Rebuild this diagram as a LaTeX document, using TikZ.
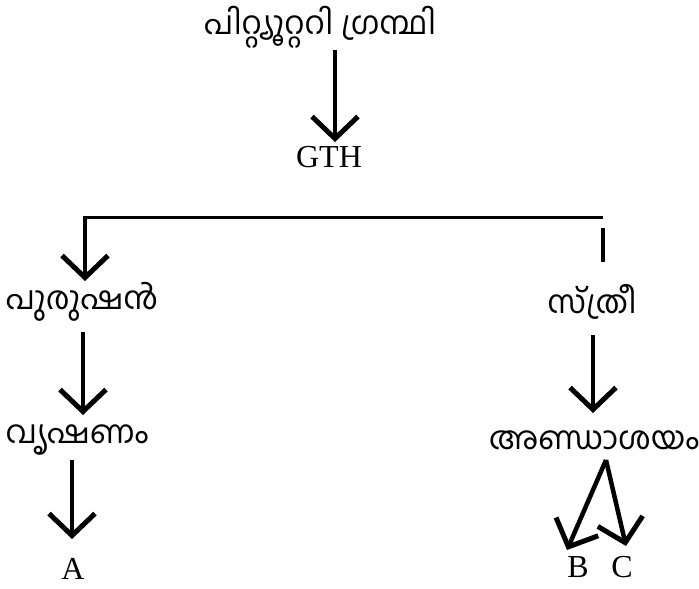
\documentclass[tikz,border=0pt]{standalone}
\usepackage{fontspec}
\setmainfont{Liberation Serif}
\newfontfamily\mlfont[Script=Malayalam]{Hind Kochi}
\usetikzlibrary{arrows.meta}
\tikzset{
  ml/.style={font=\mlfont\fontsize{32}{34}\selectfont, inner sep=0pt},
  lat/.style={font=\fontsize{32}{34}\selectfont, inner sep=0pt},
  arr/.style={line width=4.5pt, -{Straight Barb[length=22pt,width=46pt,line width=5pt]}},
  ln/.style={line width=3pt},
  stub/.style={line width=4.5pt}
}
\begin{document}
\begin{tikzpicture}[x=1pt,y=-1pt]
\useasboundingbox (0,0) rectangle (699,589);
\node[ml] (title) at (320,27) {പിറ്റ്യൂറ്ററി ഗ്രന്ഥി};
\node[lat] (gth) at (329,157) {GTH};
\node[ml] (pur) at (82,302) {പുരുഷൻ};
\node[ml] (str) at (592,302) {സ്ത്രീ};
\node[ml] (vru) at (77,440) {വൃഷണം};
\node[ml] (and) at (594,440) {അണ്ഡാശയം};
\node[lat] (a) at (73,569) {A};
\node[lat] (b) at (578,567) {B};
\node[lat] (c) at (622,567) {C};
\coordinate (t1) at (335,50);
\coordinate (t2) at (335,142);
\coordinate (hl) at (83,217);
\coordinate (hr) at (603,217);
\coordinate (p0) at (85,217);
\coordinate (p1) at (85,281);
\coordinate (s0) at (603,228);
\coordinate (s1) at (603,262);
\coordinate (q0) at (83,332);
\coordinate (q1) at (83,415);
\coordinate (r0) at (593,335);
\coordinate (r1) at (593,413);
\coordinate (u0) at (72,460);
\coordinate (u1) at (72,539);
\coordinate (apex) at (606,460);
\coordinate (bt) at (567,550);
\coordinate (ct) at (626,546);
\draw[arr] (t1) -- (t2);
\draw[ln] (hl) -- (hr);
\draw[arr] (p0) -- (p1);
\draw[stub] (s0) -- (s1);
\draw[arr] (q0) -- (q1);
\draw[arr] (r0) -- (r1);
\draw[arr] (u0) -- (u1);
\draw[arr] (apex) -- (bt);
\draw[arr] (apex) -- (ct);
\end{tikzpicture}
\end{document}
